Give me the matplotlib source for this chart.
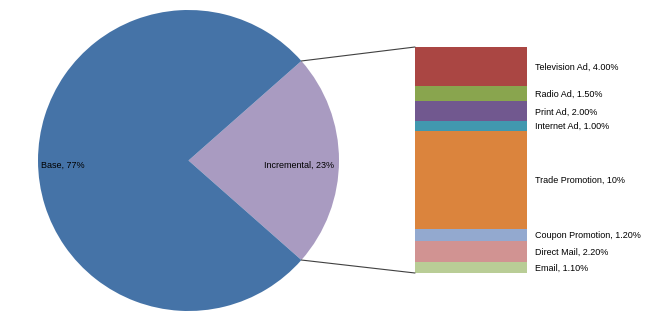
import matplotlib.pyplot as plt
from matplotlib.patches import ConnectionPatch
import numpy as np

# pie data
pie_labels = ['Incremental', 'Base']
pie_values = [23, 77]
pie_colors = ['#A99BC1', '#4573A7']

# breakdown of the incremental slice, top to bottom
bar_labels = ['Television Ad', 'Radio Ad', 'Print Ad', 'Internet Ad',
              'Trade Promotion', 'Coupon Promotion', 'Direct Mail', 'Email']
bar_values = [4.0, 1.5, 2.0, 1.0, 10.0, 1.2, 2.2, 1.1]
bar_texts = ['4.00%', '1.50%', '2.00%', '1.00%', '10%', '1.20%', '2.20%', '1.10%']
bar_colors = ['#AA4643', '#89A54E', '#71588F', '#4198AF',
              '#DB843D', '#93A9CF', '#D19392', '#B9CD96']

plt.rcParams['font.family'] = ['Liberation Sans', 'DejaVu Sans']

W, H = 645, 324
fig = plt.figure(figsize=(W / 100, H / 100), dpi=100)

# pie axes: pixel box x 38..339, y 10..311 from top
ax1 = fig.add_axes([38 / W, (H - 311) / H, 301 / W, 301 / H])
half = pie_values[0] / sum(pie_values) * 360 / 2
wedges, _ = ax1.pie(pie_values, colors=pie_colors, startangle=-half,
                    counterclock=True, radius=1)
ax1.set_xlim(-1, 1)
ax1.set_ylim(-1, 1)
ax1.axis('off')
ax1.text(-0.98, -0.03, 'Base, %d%%' % pie_values[1], ha='left', va='center', fontsize=6.5)
ax1.text(0.965, -0.03, 'Incremental, %d%%' % pie_values[0], ha='right', va='center', fontsize=6.5)

# stacked bar axes: pixel box x 415..527, y 47..273
ax2 = fig.add_axes([415 / W, (H - 273) / H, 112 / W, 226 / H])
bottom = 0
for lab, val, txt, col in reversed(list(zip(bar_labels, bar_values, bar_texts, bar_colors))):
    ax2.bar(0, val, width=1, bottom=bottom, color=col, linewidth=0)
    ax2.text(0.57, bottom + val / 2 - 0.1, '%s, %s' % (lab, txt), ha='left', va='center',
             fontsize=6.5, transform=ax2.transData)
    bottom += val
ax2.set_xlim(-0.5, 0.5)
ax2.set_ylim(0, sum(bar_values))
ax2.axis('off')

# connector lines
theta = np.deg2rad(half)
for sign, ypt in [(1, sum(bar_values)), (-1, 0)]:
    con = ConnectionPatch(xyA=(-0.5, ypt), coordsA=ax2.transData,
                          xyB=(np.cos(theta), sign * np.sin(theta)), coordsB=ax1.transData,
                          color='#404040', linewidth=0.8)
    fig.add_artist(con)

fig.savefig('out.png', dpi=100)
